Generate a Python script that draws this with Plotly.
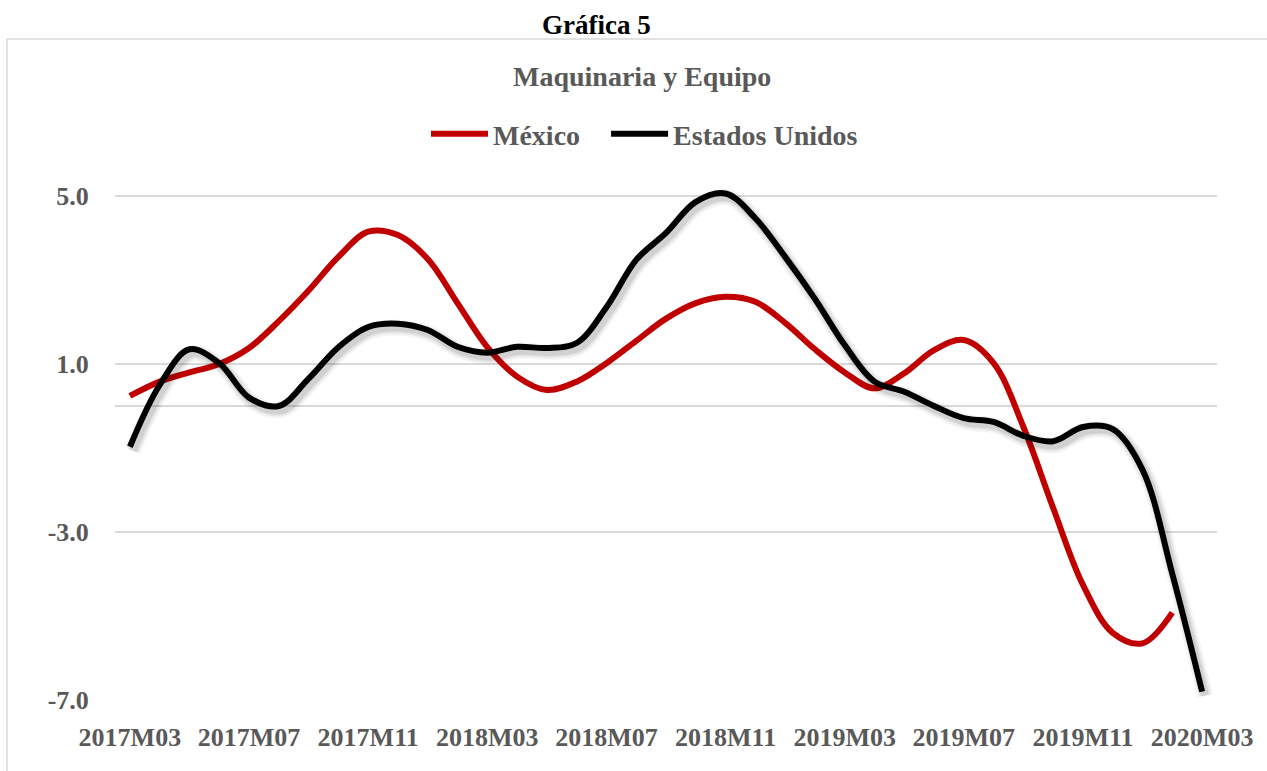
import plotly.graph_objects as go

# Monthly periods, March 2017 to March 2020
periodos = [
    "2017M03", "2017M04", "2017M05", "2017M06", "2017M07", "2017M08", "2017M09",
    "2017M10", "2017M11", "2017M12", "2018M01", "2018M02", "2018M03", "2018M04",
    "2018M05", "2018M06", "2018M07", "2018M08", "2018M09", "2018M10", "2018M11",
    "2018M12", "2019M01", "2019M02", "2019M03", "2019M04", "2019M05", "2019M06",
    "2019M07", "2019M08", "2019M09", "2019M10", "2019M11", "2019M12", "2020M01",
    "2020M02", "2020M03",
]

# Machinery and equipment, annual variation (%)
mexico = [
    0.24, 0.58, 0.80, 1.00, 1.38, 2.02, 2.75, 3.55, 4.15, 4.07,
    3.50, 2.45, 1.40, 0.70, 0.38, 0.58, 1.02, 1.55, 2.08, 2.45,
    2.60, 2.48, 1.98, 1.35, 0.80, 0.42, 0.78, 1.33, 1.57, 1.02,
    -0.50, -2.43, -4.26, -5.40, -5.65, -4.92,
]
estados_unidos = [
    -0.97, 0.50, 1.35, 1.02, 0.20, 0.00, 0.65, 1.40, 1.88, 1.96,
    1.81, 1.41, 1.27, 1.41, 1.38, 1.50, 2.35, 3.48, 4.12, 4.86,
    5.06, 4.47, 3.55, 2.55, 1.45, 0.58, 0.34, 0.00, -0.29, -0.38,
    -0.71, -0.84, -0.50, -0.55, -1.52, -4.00, -6.80,
]

y_ticks = [-7.0, -3.0, 1.0, 5.0]
x_ticks = periodos[::4]

# Page geometry (pixels)
W, H = 1267, 771
L, R, T, B = 115, 1217, 179, 700
PW, PH = R - L, B - T
PX_PER_UNIT = 42.0
PX_PER_CAT = PW / len(periodos)


def px_x(px):
    return (px - L) / PW


def px_y(py):
    return (B - py) / PH


FONT = "Liberation Serif"
GREY = "#595959"
GRID = "#D9D9D9"
NBSP = "\u00a0"

x_range = [-0.5, len(periodos) - 0.5]
y_range = [-7.0, -7.0 + PH / PX_PER_UNIT]

fig = go.Figure()

# Soft drop shadow beneath the US line: same series on an overlay axis pair offset down-right
shadow_dx, shadow_dy = 3, 4
for w, a in [(16, 0.04), (12, 0.06), (8, 0.09)]:
    fig.add_trace(go.Scatter(
        x=periodos, y=estados_unidos, mode="lines",
        line=dict(color=f"rgba(0,0,0,{a})", width=w, shape="spline", smoothing=1.0),
        xaxis="x2", yaxis="y2", showlegend=False, hoverinfo="skip",
    ))

fig.add_trace(go.Scatter(
    x=periodos[:len(mexico)], y=mexico, mode="lines", name="<b>México</b>" + NBSP * 3,
    line=dict(color="#C00000", width=6, shape="spline", smoothing=1.0),
))
fig.add_trace(go.Scatter(
    x=periodos, y=estados_unidos, mode="lines", name="<b>Estados Unidos</b>",
    line=dict(color="#000000", width=6, shape="spline", smoothing=1.0),
))

fig.update_layout(
    width=W, height=H,
    margin=dict(l=L, r=W - R, t=T, b=H - B, pad=0),
    paper_bgcolor="white", plot_bgcolor="white",
    font=dict(family=FONT, color=GREY),
    showlegend=True,
    legend=dict(
        orientation="h", x=px_x(426), y=px_y(134), xanchor="left", yanchor="middle",
        font=dict(family=FONT, size=28, color=GREY), bgcolor="rgba(0,0,0,0)",
        itemwidth=57, tracegroupgap=0,
    ),
    xaxis=dict(
        type="category", categoryorder="array", categoryarray=periodos,
        range=x_range,
        tickmode="array", tickvals=x_ticks, ticktext=[f"<b>{t}</b>" for t in x_ticks],
        showgrid=False, zeroline=False, showline=False,
        ticks="outside", ticklen=14, tickcolor="rgba(0,0,0,0)",
        tickfont=dict(family=FONT, size=26, color=GREY),
        fixedrange=True,
    ),
    yaxis=dict(
        range=y_range, tickmode="array", tickvals=y_ticks,
        ticktext=[f"<b>{v:.1f}</b>" for v in y_ticks],
        showgrid=True, gridcolor=GRID, gridwidth=2,
        zeroline=True, zerolinecolor=GRID, zerolinewidth=2,
        showline=False, ticks="outside", ticklen=20, tickcolor="rgba(0,0,0,0)",
        tickfont=dict(family=FONT, size=26, color=GREY),
        fixedrange=True,
    ),
    xaxis2=dict(
        type="category", categoryorder="array", categoryarray=periodos,
        range=[x_range[0] - shadow_dx / PX_PER_CAT, x_range[1] - shadow_dx / PX_PER_CAT],
        overlaying="x", anchor="y2", visible=False, fixedrange=True,
    ),
    yaxis2=dict(
        range=[y_range[0] + shadow_dy / PX_PER_UNIT, y_range[1] + shadow_dy / PX_PER_UNIT],
        overlaying="y", anchor="x2", visible=False, fixedrange=True,
    ),
    annotations=[
        dict(text="<b>Gráfica 5</b>", x=px_x(596), y=px_y(25), xref="paper", yref="paper",
             xanchor="center", yanchor="middle", showarrow=False,
             font=dict(family=FONT, size=27, color="#000000")),
        dict(text="<b>Maquinaria y Equipo</b>", x=px_x(642), y=px_y(76), xref="paper", yref="paper",
             xanchor="center", yanchor="middle", showarrow=False,
             font=dict(family=FONT, size=28, color=GREY)),
    ],
    shapes=[
        dict(type="rect", xref="paper", yref="paper",
             x0=px_x(7), x1=px_x(W + 5), y0=px_y(H + 5), y1=px_y(39),
             line=dict(color=GRID, width=1.5), fillcolor="rgba(0,0,0,0)", layer="below"),
    ],
)

fig.write_html("out.html", config={"displayModeBar": False})
